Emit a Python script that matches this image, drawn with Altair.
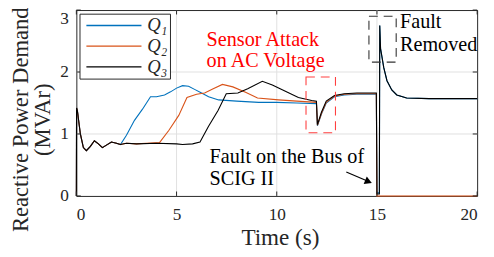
import altair as alt
import pandas as pd

# ---------------- data ----------------
start_t = [0, 0.01, 0.05, 0.2, 0.35, 0.5, 0.7, 0.9, 1.1, 1.3, 1.5, 1.75, 2.0, 2.2]
start_v = [0, 1.42, 1.38, 1.0, 0.78, 0.73, 0.80, 0.89, 0.84, 0.78, 0.82, 0.87, 0.85, 0.83]

q1_t = [2.5, 2.9, 3.3, 3.7, 4.0, 4.4, 4.7, 5.0, 5.3, 5.6, 5.9, 6.2, 6.6, 7.1, 8.0, 9.1, 10.0,
        11.0, 11.98, 12.03, 12.23, 12.47, 12.88, 13.37, 14.0, 14.97, 15.0, 15.12, 15.14,
        15.18, 15.34, 15.5, 15.74, 15.99, 16.48, 17.6, 20]
q1_v = [0.98, 1.22, 1.40, 1.60, 1.60, 1.63, 1.68, 1.74, 1.78, 1.77, 1.72, 1.67, 1.60, 1.55, 1.53,
        1.51, 1.51, 1.50, 1.49, 1.13, 1.32, 1.50, 1.60, 1.63, 1.64, 1.64, 0.05, 0.05, 2.75,
        2.38, 2.07, 1.86, 1.71, 1.63, 1.58, 1.57, 1.57]

q2_t = [2.5, 3.0, 3.5, 4.15, 4.62, 5.11, 5.52, 6.0, 6.4, 6.83, 7.29, 7.81, 8.47, 9.04, 10.09,
        11.0, 11.98, 12.03, 12.23, 12.47, 12.88, 13.37, 14.0, 14.97, 15.0, 20]
q2_v = [0.85, 0.84, 0.85, 0.86, 1.06, 1.30, 1.59, 1.64, 1.66, 1.73, 1.80, 1.76, 1.67, 1.58, 1.55,
        1.53, 1.51, 1.14, 1.33, 1.51, 1.61, 1.64, 1.65, 1.65, 0.0, 0.0]

q3_t = [2.5, 3.0, 4.0, 5.0, 5.3, 5.8, 6.17, 6.59, 7.07, 7.48, 8.06, 8.55, 9.28, 9.78, 10.43,
        11.08, 11.74, 11.98, 12.03, 12.23, 12.47, 12.88, 13.37, 14.0, 14.97, 15.0, 15.12, 15.14,
        15.18, 15.34, 15.5, 15.74, 15.99, 16.48, 17.6, 20]
q3_v = [0.85, 0.84, 0.85, 0.84, 0.83, 0.84, 0.87, 1.12, 1.38, 1.65, 1.66, 1.73, 1.85, 1.79, 1.69,
        1.59, 1.54, 1.53, 1.15, 1.35, 1.53, 1.62, 1.65, 1.66, 1.66, 0.03, 0.03, 2.75,
        2.38, 2.07, 1.86, 1.71, 1.63, 1.58, 1.57, 1.57]

series_names = ["Q\u2081", "Q\u2082", "Q\u2083"]
series_colors = ["#0072BD", "#D95319", "#000000"]

x_ticks = [0, 5, 10, 15, 20]
y_ticks = [0, 1, 2, 3]
x_grid = [5, 10, 15]
y_grid = [1, 2]

red_text = ["Sensor Attack", "on AC Voltage"]
red_text_x = [6.5, 6.5]
red_text_y = [2.52, 2.17]
black_text = ["Fault on the Bus of", "SCIG II", "Fault", "Removed"]
black_text_x = [6.65, 6.65, 16.15, 16.15]
black_text_y = [0.62, 0.27, 2.81, 2.44]

red_box = dict(x=[11.46], x2=[12.93], y=[1.02], y2=[1.92])
black_box = dict(x=[14.6], x2=[15.96], y=[2.16], y2=[2.9])
arrow = dict(x=[13.47], y=[0.386], x2=[14.58], y2=[0.232])

# ---------------- build tables ----------------
rows = []
for name, tt, vv in zip(series_names, [q1_t, q2_t, q3_t], [q1_v, q2_v, q3_v]):
    for i, (t, v) in enumerate(zip(start_t + tt, start_v + vv)):
        rows.append({"t": t, "q": v, "s": name, "i": i})
df = pd.DataFrame(rows)

FONT = "Liberation Serif"
DARK = "#262626"

xs = alt.Scale(domain=[0, 20], nice=False)
ys = alt.Scale(domain=[0, 3], nice=False)

x_axis = alt.Axis(values=x_ticks, format="d", grid=False, ticks=False, tickSize=0, domain=False,
                  labelFont=FONT, labelFontSize=17.5, labelColor=DARK, labelPadding=10,
                  title="Time (s)", titleFont=FONT, titleFontSize=23.5, titleFontWeight="normal",
                  titleColor=DARK, titleBaseline="middle", titleY=42, titleX=207)
y_axis = alt.Axis(values=y_ticks, format="d", grid=False, ticks=False, tickSize=0, domain=False,
                  labelFont=FONT, labelFontSize=17.5, labelColor=DARK, labelPadding=8,
                  labelBaseline={"expr": "datum.value == 3 ? 'top' : 'middle'"},
                  title=["Reactive Power Demand", "(MVAr)"], titleFont=FONT, titleFontSize=23,
                  titleFontWeight="normal", titleColor=DARK, titleAngle=270,
                  titleAlign="center", titleBaseline="middle", titleLineHeight=23,
                  titleX=-57, titleY=111)

grid_x = alt.Chart(pd.DataFrame({"v": x_grid})).mark_rule(color="#e0e0e0", strokeWidth=1).encode(
    x=alt.X("v:Q", scale=xs))
grid_y = alt.Chart(pd.DataFrame({"v": y_grid})).mark_rule(color="#e0e0e0", strokeWidth=1).encode(
    y=alt.Y("v:Q", scale=ys))

lines = alt.Chart(df).mark_line(strokeWidth=1.1).encode(
    x=alt.X("t:Q", scale=xs, axis=x_axis),
    y=alt.Y("q:Q", scale=ys, axis=y_axis),
    color=alt.Color("s:N", scale=alt.Scale(domain=series_names, range=series_colors),
                    title=None,
                    legend=alt.Legend(orient="none", legendX=3.2, legendY=3.7,
                                      symbolType="stroke", symbolSize=3136,
                                      symbolStrokeWidth=1.3, clipHeight=20, rowPadding=1,
                                      padding=2, symbolOffset=4, labelOffset=5,
                                      labelFont=FONT, labelFontSize=19, labelFontStyle="italic",
                                      labelColor=DARK, strokeColor=DARK, fillColor="white",
                                      cornerRadius=0)),
    order="i:Q",
)

tx = pd.DataFrame({"v": x_ticks})
ty = pd.DataFrame({"v": y_ticks})
tick_b = alt.Chart(tx).mark_rule(color=DARK).encode(x=alt.X("v:Q", scale=xs), y=alt.value(189), y2=alt.value(184.5))
tick_t = alt.Chart(tx).mark_rule(color=DARK).encode(x=alt.X("v:Q", scale=xs), y=alt.value(0), y2=alt.value(4.5))
tick_l = alt.Chart(ty).mark_rule(color=DARK).encode(y=alt.Y("v:Q", scale=ys), x=alt.value(0), x2=alt.value(4.5))
tick_r = alt.Chart(ty).mark_rule(color=DARK).encode(y=alt.Y("v:Q", scale=ys), x=alt.value(407.5), x2=alt.value(403))

rbox = alt.Chart(pd.DataFrame(red_box)).mark_rect(fillOpacity=0, stroke="#ff4040", strokeWidth=1.1,
                                                   strokeDash=[9, 6]).encode(
    x=alt.X("x:Q", scale=xs), x2="x2:Q", y=alt.Y("y:Q", scale=ys), y2="y2:Q")
bbox = alt.Chart(pd.DataFrame(black_box)).mark_rect(fillOpacity=0, stroke="#333333", strokeWidth=1.1,
                                                     strokeDash=[9, 6]).encode(
    x=alt.X("x:Q", scale=xs), x2="x2:Q", y=alt.Y("y:Q", scale=ys), y2="y2:Q")

rtext = alt.Chart(pd.DataFrame({"x": red_text_x, "y": red_text_y, "t": red_text})).mark_text(
    align="left", baseline="middle", font=FONT, fontSize=20.5, color="#ff0000").encode(
    x=alt.X("x:Q", scale=xs), y=alt.Y("y:Q", scale=ys), text="t:N")
btext = alt.Chart(pd.DataFrame({"x": black_text_x, "y": black_text_y, "t": black_text})).mark_text(
    align="left", baseline="middle", font=FONT, fontSize=20.5, color="#000000").encode(
    x=alt.X("x:Q", scale=xs), y=alt.Y("y:Q", scale=ys), text="t:N")

adf = pd.DataFrame(arrow)
arule = alt.Chart(adf).mark_rule(color="black", strokeWidth=1.2).encode(
    x=alt.X("x:Q", scale=xs), y=alt.Y("y:Q", scale=ys), x2="x2:Q", y2="y2:Q")
ahead = alt.Chart(adf).mark_point(shape="triangle-right", size=70, filled=True, color="black",
                                  opacity=1, angle=22).encode(
    x=alt.X("x2:Q", scale=xs), y=alt.Y("y2:Q", scale=ys))

chart = alt.layer(grid_x, grid_y, lines, rbox, bbox, tick_b, tick_t, tick_l, tick_r,
                  rtext, btext, arule, ahead).properties(
    width=407.5, height=189,
    padding={"left": 69.5, "top": 0, "right": 9, "bottom": 60},
    autosize="none",
).configure_view(stroke=DARK, strokeWidth=1)

chart.save("out.html", embed_options={"renderer": "svg", "actions": False})
